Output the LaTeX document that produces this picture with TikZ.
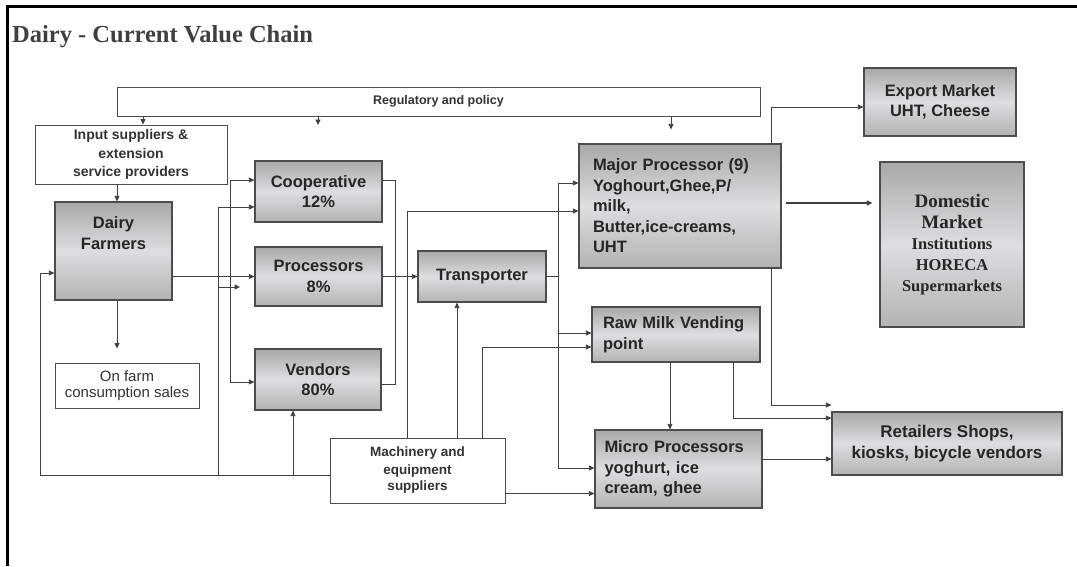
\documentclass[tikz,border=0pt]{standalone}
\usepackage{fontspec}
\setmainfont{Liberation Serif}
\setsansfont{Liberation Sans}
\usetikzlibrary{arrows.meta}

\newcommand{\boxfont}{\sffamily\bfseries\fontsize{16.5}{20.5}\selectfont}
\newcommand{\plainfont}{\sffamily\bfseries\fontsize{13.5}{17}\selectfont}

\tikzset{
	shadebox/.style={draw=black!70, line width=1.2pt, top color=black!34, bottom color=black!30, middle color=blue!8!black!13, inner sep=0pt, align=center, font=\boxfont, text=black!85},
	plainbox/.style={draw=black!70, line width=1pt, fill=white, inner sep=0pt, align=center, font=\plainfont, text=black!80},
	link/.style={draw=black!75, line width=0.8pt},
	arr/.style={link, -{Triangle[length=5.5pt,width=5pt]}},
}

\begin{document}
\begin{tikzpicture}[x=1pt, y=-1pt]
			\useasboundingbox (0,0) rectangle (1077,566);
			\draw[line width=2.5pt] (1077,6.5) -- (7.7,6.5) -- (7.7,566);
			\node[anchor=base west, inner sep=0pt, font=\rmfamily\bfseries\fontsize{24.5}{28}\selectfont, text=black!75] (title) at (12,42) {Dairy - Current Value Chain};

			% boxes
			\node[plainbox, font=\sffamily\bfseries\fontsize{12.5}{15}\selectfont, minimum width=643pt, minimum height=29pt] (reg) at (438.5,101.5) {Regulatory and policy};
			\node[plainbox, font=\sffamily\bfseries\fontsize{14}{18.5}\selectfont, minimum width=192pt, minimum height=59pt] (input) at (131,154.5) {Input suppliers \&\\extension\\service providers};
			\node[shadebox, minimum width=117pt, minimum height=98pt, label={[font=\boxfont, text=black!85, align=center, anchor=north, inner sep=0pt, yshift=-15pt]north:Dairy\\Farmers}] (farm) at (113.5,251) {};
			\node[plainbox, font=\sffamily\fontsize{15}{16.5}\selectfont, minimum width=144pt, minimum height=45pt] (onfarm) at (127,385.5) {On farm\\consumption sales};
			\node[shadebox, minimum width=127pt, minimum height=61pt] (coop) at (318.5,191.5) {Cooperative\\12\%};
			\node[shadebox, minimum width=127pt, minimum height=59pt] (proc) at (318.5,276.5) {Processors\\8\%};
			\node[shadebox, minimum width=126pt, minimum height=61pt] (vend) at (318,379.5) {Vendors\\80\%};
			\node[shadebox, minimum width=128pt, minimum height=51pt] (trans) at (482,276.5) {Transporter};
			\node[plainbox, minimum width=175pt, minimum height=65pt] (mach) at (417.5,470.5) {Machinery and\\equipment\\suppliers};
			\node[shadebox, minimum width=202pt, minimum height=124pt, align=left, text width=174pt, inner xsep=14pt] (major) at (680,206) {Major Processor (9)\\Yoghourt,Ghee,P/\\milk,\\Butter,ice-creams,\\UHT};
			\node[shadebox, minimum width=168pt, minimum height=55pt, align=left, text width=146pt, inner xsep=11pt] (raw) at (676,334.5) {Raw Milk Vending\\point};
			\node[shadebox, minimum width=167pt, minimum height=78pt, align=left, text width=148pt, inner xsep=9.5pt] (micro) at (678.5,469) {Micro Processors\\yoghurt, ice\\cream, ghee};
			\node[shadebox, minimum width=152pt, minimum height=68pt] (export) at (940,102) {Export Market\\UHT, Cheese};
			\node[shadebox, minimum width=144pt, minimum height=165pt, font=\rmfamily\bfseries\fontsize{16.5}{21}\selectfont] (dom) at (952,244.5) {{\fontsize{19}{24}\selectfont Domestic}\\{\fontsize{19}{24}\selectfont Market}\\Institutions\\HORECA\\Supermarkets};
			\node[shadebox, minimum width=230pt, minimum height=63pt, font=\sffamily\bfseries\fontsize{17}{21}\selectfont] (retail) at (947,443.5) {Retailers Shops,\\kiosks, bicycle vendors};

			% regulatory and policy
			\coordinate (regfree) at (318,125);
			\draw[arr] ([xshift=12pt]input.north |- reg.south) -- ([xshift=12pt]input.north);
			\draw[arr] (regfree |- reg.south) -- (regfree);
			\draw[arr, shorten >=14pt] ([xshift=-9pt]major.north |- reg.south) -- ([xshift=-9pt]major.north);

			% farmers
			\coordinate (bus) at (230,276.5);
			\draw[arr] ([xshift=3.5pt]farm.north |- input.south) -- ([xshift=3.5pt]farm.north);
			\draw[arr, shorten >=14pt] ([xshift=3.5pt]farm.south) -- ([xshift=3.5pt]farm.south |- onfarm.north);
			\draw[arr] (farm.east |- proc.west) -- (proc.west);
			\draw[arr] (bus) |- ([yshift=11.5pt]coop.west);
			\draw[arr] (bus) |- ([yshift=-2.5pt]vend.west);

			% machinery and equipment
			\coordinate (mleft) at (40,475);
			\coordinate (mcoop) at (218,475);
			\coordinate (ptip) at (240,287);
			\draw[arr] ([yshift=-4.5pt]mach.west) -- (mleft) |- ([yshift=-22pt]farm.west);
			\draw[arr] (mcoop) |- ([yshift=-15.5pt]coop.west);
			\draw[arr] (mcoop |- ptip) -- (ptip);
			\draw[arr] ([xshift=-25pt]vend.south |- mleft) -- ([xshift=-25pt]vend.south);
			\draw[arr] ([xshift=-10.5pt]mach.north) |- ([yshift=-5pt]major.west);
			\draw[arr] ([xshift=-25pt]trans.south |- mach.north) -- ([xshift=-25pt]trans.south);
			\draw[arr] ([xshift=64.5pt]mach.north) |- ([yshift=-12.5pt]raw.west);
			\draw[arr] ([yshift=-23pt]mach.east) -- ([yshift=-23pt]mach.east -| micro.west);

			% transporter
			\coordinate (join) at (395,276.5);
			\coordinate (split) at (558,276.5);
			\draw[link] ([yshift=11.5pt]coop.east) -| (join);
			\draw[link] ([yshift=-4.5pt]vend.east) -| (join);
			\draw[arr] (proc.east) -- (trans.west);
			\draw[link] (trans.east) -- (split);
			\draw[arr] (split) |- ([yshift=23pt]major.west);
			\draw[arr] (split) |- ([yshift=1.5pt]raw.west);
			\draw[arr] (split) |- ([yshift=1pt]micro.west);

			% markets
			\draw[arr] ([xshift=-10pt]major.north east) |- ([yshift=-5pt]export.west);
			\draw[arr, line width=1.3pt, shorten >=7pt] ([xshift=4pt, yshift=3pt]major.east) -- ([yshift=3pt]major.east -| dom.west);
			\draw[arr] ([xshift=-10pt]major.south east) |- ([yshift=38.5pt]retail.west);
			\draw[arr] ([xshift=-8.5pt]micro.north |- raw.south) -- ([xshift=-8.5pt]micro.north);
			\draw[arr] ([xshift=57pt]raw.south) |- ([yshift=25.5pt]retail.west);
			\draw[arr] ([yshift=10pt]micro.east) -- ([yshift=10pt]micro.east -| retail.west);
		\end{tikzpicture}
\end{document}
